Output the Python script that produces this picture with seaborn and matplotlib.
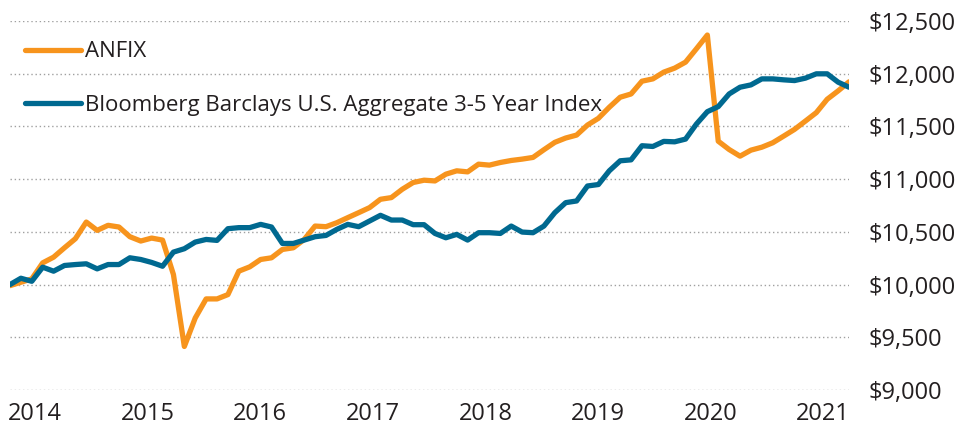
import numpy as np
import pandas as pd
import matplotlib
matplotlib.use("Agg")
import matplotlib.pyplot as plt
import seaborn as sns

# Growth of $10,000
anfix = [9990, 10022, 10054, 10206, 10260, 10349, 10435, 10593, 10514, 10562,
         10546, 10454, 10413, 10441, 10422, 10095, 9413, 9683, 9864, 9864,
         9905, 10127, 10168, 10238, 10254, 10333, 10349, 10428, 10555, 10549,
         10587, 10635, 10682, 10730, 10809, 10825, 10904, 10968, 10990, 10983,
         11047, 11079, 11069, 11142, 11133, 11158, 11177, 11190, 11206, 11279,
         11349, 11390, 11418, 11513, 11577, 11682, 11777, 11808, 11929, 11951,
         12015, 12053, 12110, 12237, 12367, 11360, 11281, 11218, 11275, 11303,
         11345, 11408, 11472, 11551, 11631, 11758, 11837, 11923]
bbagg = [10000, 10060, 10031, 10165, 10127, 10181, 10190, 10197, 10149, 10190,
         10190, 10254, 10238, 10210, 10174, 10308, 10340, 10403, 10428, 10419,
         10530, 10540, 10540, 10571, 10546, 10390, 10390, 10422, 10454, 10466,
         10524, 10571, 10549, 10603, 10657, 10612, 10612, 10568, 10568, 10485,
         10444, 10476, 10422, 10492, 10492, 10485, 10555, 10498, 10492, 10555,
         10682, 10777, 10793, 10935, 10949, 11079, 11174, 11183, 11317, 11310,
         11358, 11354, 11380, 11523, 11640, 11688, 11808, 11872, 11894, 11951,
         11951, 11942, 11935, 11958, 11999, 11999, 11920, 11872]
series_names = ["ANFIX", "Bloomberg Barclays U.S. Aggregate 3-5 Year Index"]
years = [2014, 2015, 2016, 2017, 2018, 2019, 2020, 2021]
y_ticks = [9000, 9500, 10000, 10500, 11000, 11500, 12000, 12500]

x = np.linspace(2013.777, 2021.23, len(anfix))
df = pd.concat([
    pd.DataFrame({"date": x, "value": anfix, "fund": series_names[0]}),
    pd.DataFrame({"date": x, "value": bbagg, "fund": series_names[1]}),
])

sns.set_style("white")
plt.rcParams["font.family"] = ["Open Sans", "DejaVu Sans"]
text_color = "#231f20"

fig = plt.figure(figsize=(9.57, 4.32), dpi=100)
ax = fig.add_axes([10 / 957, 42 / 432, 839 / 957, 369 / 432])

sns.lineplot(data=df, x="date", y="value", hue="fund",
             palette=["#f7941d", "#006990"], linewidth=3.8, ax=ax,
             solid_capstyle="round", solid_joinstyle="round", zorder=3)

ax.set_xlim(x[0], x[-1])
ax.set_ylim(9000, 12500)
ax.set_yticks(y_ticks)
ax.set_yticklabels([f"${v:,}" for v in y_ticks])
ax.set_xticks(years)
ax.set_xticklabels([str(y) for y in years])
ax.yaxis.tick_right()
ax.tick_params(axis="y", length=0, pad=14, labelsize=17, labelcolor=text_color)
ax.tick_params(axis="x", length=0, pad=9, labelsize=17, labelcolor=text_color)
ax.grid(axis="y", color="#a0a0a0", linestyle=(0, (1, 2)), linewidth=1.0)
ax.set_xlabel("")
ax.set_ylabel("")
for s in ax.spines.values():
    s.set_visible(False)

leg = ax.legend(loc="upper left", bbox_to_anchor=(0.018, 0.945), frameon=False,
                fontsize=16, handlelength=2.5, handletextpad=0.2,
                labelspacing=1.45, borderpad=0, borderaxespad=0)
for line in leg.get_lines():
    line.set_linewidth(3.8)
    line.set_solid_capstyle("round")
for t in leg.get_texts():
    t.set_color(text_color)

fig.savefig("out.png", dpi=100)
